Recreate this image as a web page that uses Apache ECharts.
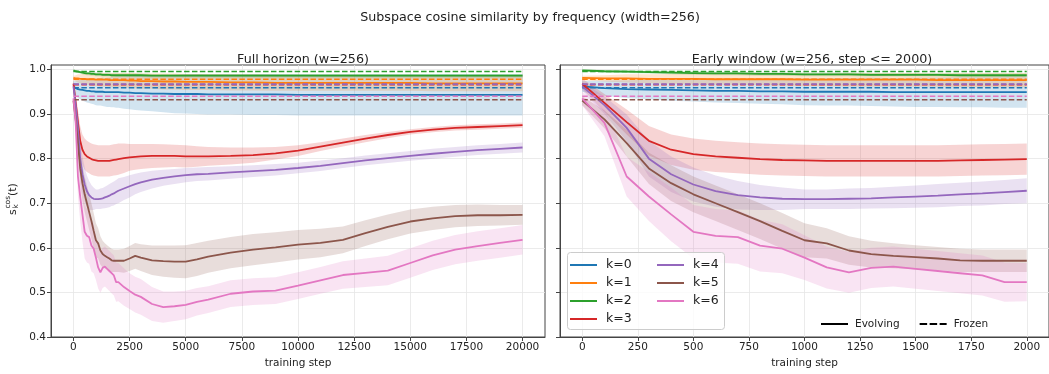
<!DOCTYPE html>
<html>
<head>
<meta charset="utf-8">
<script src="https://cdn.jsdelivr.net/npm/echarts@6/dist/echarts.min.js"></script>
<style>
html,body{margin:0;padding:0;background:#fff;}
#chart{width:1049px;height:374px;}
</style>
</head>
<body>
<div id="chart"></div>
<script>
// ---- data ----
const steps = [0,100,200,300,400,500,600,700,800,900,1000,1100,1200,1300,1400,1500,1600,1700,1800,1900,2000,
  2250,2500,2750,3000,3500,4000,4500,5000,5500,6000,7000,8000,9000,10000,11000,12000,13000,14000,15000,16000,17000,18000,19000,20000];

const meanK0 = [0.962,0.958,0.956,0.955,0.954,0.953,0.952,0.952,0.951,0.951,0.950,0.950,0.950,0.950,0.949,0.949,0.949,0.949,0.949,0.949,0.949,
  0.948,0.948,0.947,0.947,0.946,0.946,0.945,0.945,0.945,0.944,0.944,0.944,0.944,0.943,0.943,0.943,0.943,0.943,0.943,0.943,0.943,0.943,0.943,0.943];
const halfK0 = [0.012,0.017,0.020,0.022,0.024,0.025,0.026,0.027,0.028,0.029,0.030,0.031,0.031,0.032,0.032,0.033,0.033,0.034,0.034,0.035,0.035,
  0.036,0.037,0.038,0.039,0.040,0.042,0.043,0.044,0.045,0.045,0.045,0.046,0.046,0.046,0.046,0.046,0.046,0.046,0.046,0.046,0.046,0.046,0.046,0.046];

const meanK1 = [0.981,0.980,0.980,0.979,0.979,0.979,0.978,0.978,0.978,0.978,0.977,0.977,0.977,0.977,0.977,0.977,0.976,0.976,0.976,0.976,0.976,
  0.976,0.975,0.975,0.974,0.974,0.973,0.973,0.972,0.972,0.972,0.971,0.971,0.970,0.970,0.970,0.970,0.970,0.970,0.970,0.969,0.969,0.969,0.969,0.969];
const halfK1 = [0.005,0.007,0.009,0.010,0.011,0.012,0.012,0.013,0.013,0.014,0.014,0.014,0.015,0.015,0.015,0.015,0.015,0.016,0.016,0.016,0.016,
  0.016,0.017,0.017,0.017,0.017,0.018,0.018,0.018,0.018,0.018,0.018,0.018,0.018,0.018,0.018,0.018,0.018,0.018,0.018,0.018,0.018,0.018,0.018,0.018];

const meanK2 = [0.998,0.996,0.995,0.994,0.993,0.992,0.991,0.991,0.990,0.990,0.989,0.989,0.989,0.988,0.988,0.988,0.988,0.987,0.987,0.987,0.987,
  0.987,0.987,0.987,0.987,0.986,0.986,0.986,0.986,0.986,0.986,0.986,0.986,0.986,0.986,0.986,0.986,0.986,0.986,0.986,0.986,0.986,0.986,0.986,0.986];
const halfK2 = [0.002,0.003,0.003,0.003,0.004,0.004,0.004,0.004,0.004,0.004,0.004,0.004,0.004,0.004,0.004,0.004,0.004,0.004,0.004,0.004,0.004,
  0.004,0.004,0.004,0.004,0.004,0.004,0.004,0.004,0.004,0.004,0.004,0.004,0.004,0.004,0.004,0.004,0.004,0.004,0.004,0.004,0.004,0.004,0.004,0.004];

const meanK3 = [0.968,0.925,0.882,0.840,0.820,0.810,0.805,0.802,0.799,0.797,0.796,0.795,0.795,0.795,0.795,0.795,0.795,0.796,0.797,0.798,0.799,
  0.801,0.803,0.804,0.805,0.806,0.806,0.806,0.805,0.805,0.805,0.806,0.808,0.812,0.818,0.827,0.836,0.845,0.853,0.860,0.865,0.869,0.871,0.873,0.875];
const halfK3 = [0.012,0.020,0.028,0.033,0.034,0.035,0.035,0.035,0.035,0.035,0.035,0.035,0.035,0.035,0.035,0.035,0.035,0.035,0.035,0.035,0.035,
  0.033,0.030,0.029,0.028,0.027,0.026,0.025,0.025,0.023,0.021,0.019,0.017,0.014,0.012,0.010,0.009,0.008,0.007,0.006,0.006,0.006,0.006,0.006,0.006];

const meanK4 = [0.962,0.920,0.869,0.800,0.765,0.742,0.727,0.718,0.713,0.710,0.709,0.709,0.710,0.711,0.713,0.715,0.717,0.720,0.722,0.725,0.728,
  0.733,0.738,0.743,0.747,0.753,0.757,0.760,0.763,0.765,0.766,0.769,0.772,0.775,0.779,0.784,0.790,0.796,0.801,0.806,0.811,0.815,0.819,0.822,0.825];
const halfK4 = [0.010,0.020,0.030,0.040,0.040,0.038,0.035,0.032,0.028,0.025,0.022,0.022,0.023,0.023,0.024,0.025,0.026,0.026,0.027,0.027,0.028,
  0.026,0.025,0.023,0.022,0.020,0.018,0.017,0.016,0.015,0.015,0.014,0.013,0.013,0.012,0.012,0.011,0.011,0.011,0.011,0.011,0.011,0.011,0.011,0.011];

const meanK5 = [0.930,0.888,0.835,0.778,0.745,0.720,0.700,0.680,0.660,0.638,0.617,0.610,0.594,0.586,0.582,0.579,0.576,0.572,0.571,0.571,0.571,
  0.571,0.576,0.582,0.578,0.572,0.570,0.569,0.569,0.574,0.580,0.589,0.596,0.601,0.607,0.611,0.618,0.633,0.647,0.659,0.666,0.671,0.673,0.673,0.674];
const halfK5 = [0.010,0.020,0.030,0.035,0.040,0.040,0.040,0.040,0.040,0.040,0.038,0.034,0.032,0.030,0.028,0.027,0.026,0.026,0.025,0.025,0.025,
  0.027,0.028,0.029,0.030,0.033,0.035,0.036,0.037,0.037,0.036,0.035,0.035,0.034,0.033,0.032,0.030,0.029,0.028,0.027,0.026,0.025,0.024,0.023,0.022];

const meanK6 = [0.935,0.880,0.760,0.715,0.675,0.636,0.627,0.624,0.605,0.598,0.578,0.556,0.545,0.555,0.558,0.553,0.548,0.543,0.538,0.523,0.523,
  0.512,0.503,0.495,0.490,0.474,0.467,0.469,0.472,0.479,0.484,0.497,0.502,0.504,0.515,0.527,0.539,0.544,0.549,0.566,0.583,0.596,0.604,0.611,0.618];
const halfK6 = [0.015,0.030,0.045,0.055,0.060,0.060,0.060,0.060,0.058,0.055,0.050,0.047,0.046,0.045,0.045,0.045,0.045,0.045,0.045,0.044,0.043,
  0.042,0.040,0.040,0.040,0.038,0.035,0.033,0.032,0.031,0.030,0.030,0.030,0.030,0.030,0.030,0.031,0.032,0.033,0.033,0.033,0.033,0.033,0.033,0.033];

const frozenLevels = [0.959, 0.978, 0.9955, 0.966, 0.967, 0.932, 0.940];

const seriesNames = ['k=0','k=1','k=2','k=3','k=4','k=5','k=6'];
const xTicksFull = [0,2500,5000,7500,10000,12500,15000,17500,20000];
const xTicksEarly = [0,250,500,750,1000,1250,1500,1750,2000];
const yTicks = [0.4,0.5,0.6,0.7,0.8,0.9,1.0];

// ---- styling ----
const colorsRGB = [[31,119,180],[255,127,14],[44,160,44],[214,39,40],[148,103,189],[140,86,75],[227,119,194]];
const means = [meanK0,meanK1,meanK2,meanK3,meanK4,meanK5,meanK6];
const halves = [halfK0,halfK1,halfK2,halfK3,halfK4,halfK5,halfK6];
const FONT = 'DejaVu Sans';

function rgb(c,a){ return a===undefined ? `rgb(${c[0]},${c[1]},${c[2]})` : `rgba(${c[0]},${c[1]},${c[2]},${a})`; }

function buildPanel(axisIdx, maxStep){
  const out = [];
  const idx = steps.map((s,i)=>i).filter(i=>steps[i] <= maxStep);
  for (let k=0;k<7;k++){
    const c = colorsRGB[k];
    const m = means[k], h = halves[k];
    const bandData = idx.map(i=>[steps[i], +(m[i]-h[i]).toFixed(4), +(m[i]+h[i]).toFixed(4)]);
    const fillCol = rgb(c,0.2);
    out.push({
      type:'custom', name:'bd'+axisIdx+k, xAxisIndex:axisIdx, yAxisIndex:axisIdx,
      data: bandData, encode:{x:0, y:[1,2]}, silent:true,
      renderItem: function(params, api){
        if (params.dataIndex !== 0) return null;
        const up = bandData.map(d=>api.coord([d[0], d[2]]));
        const lo = bandData.map(d=>api.coord([d[0], d[1]])).reverse();
        return {type:'polygon', shape:{points: up.concat(lo)}, style:{fill:fillCol, stroke:'none'}};
      }
    });
    out.push({
      type:'line', name:seriesNames[k], xAxisIndex:axisIdx, yAxisIndex:axisIdx,
      data: idx.map(i=>[steps[i], m[i]]),
      symbol:'none', color:rgb(c), lineStyle:{color:rgb(c), width:1.8}
    });
    out.push({
      type:'line', name:'fz'+axisIdx+k, xAxisIndex:axisIdx, yAxisIndex:axisIdx,
      data: [[0, frozenLevels[k]],[maxStep, frozenLevels[k]]],
      symbol:'none', lineStyle:{color:rgb(c), width:1.6, type:[5.5,2.4]}, silent:true
    });
  }
  return out;
}

const series = [].concat(buildPanel(0, 20000), buildPanel(1, 2000));
series.push({type:'line', name:'Evolving', xAxisIndex:1, yAxisIndex:1, data:[], symbol:'none', color:'#000', lineStyle:{color:'#000', width:1.8}});
series.push({type:'line', name:'Frozen', xAxisIndex:1, yAxisIndex:1, data:[], symbol:'none', color:'#000', lineStyle:{color:'#000', width:1.6, type:[5.5,2.4]}});

function xAxisCfg(gi, min, max, ticks){
  return {
    type:'value', gridIndex:gi, min:min, max:max,
    name:'training step', nameLocation:'middle', nameGap:21,
    nameTextStyle:{fontFamily:FONT, fontSize:10.5, color:'#222'},
    axisLine:{show:true, onZero:false, lineStyle:{color:'#444', width:1}},
    axisTick:{show:true, length:4, lineStyle:{color:'#444'}, customValues:ticks},
    axisLabel:{fontFamily:FONT, fontSize:10.5, color:'#222', margin:5, customValues:ticks, formatter:v=>String(v)},
    splitLine:{show:true, lineStyle:{color:'#e6e6e6', width:0.8}, customValues:ticks}
  };
}
function yAxisCfg(gi, showLabels){
  return {
    type:'value', gridIndex:gi, min:0.4, max:1.01,
    axisLine:{show:true, onZero:false, lineStyle:{color:'#444', width:1}},
    axisTick:{show:true, length:4, lineStyle:{color:'#444'}, customValues:yTicks},
    axisLabel:{show:showLabels, fontFamily:FONT, fontSize:10.5, color:'#222', margin:5, customValues:yTicks,
      formatter:v=>v.toFixed(1)},
    splitLine:{show:true, lineStyle:{color:'#e6e6e6', width:0.8}, customValues:yTicks}
  };
}

const dashIcon = 'path://M0,0h7.5v2h-7.5z M10,0h7.5v2h-7.5z M20,0h7v2h-7z';
const legendText = {fontFamily:FONT, fontSize:12.5, color:'#222', lineHeight:14, padding:[0,0,0,4]};
const titleText = {fontFamily:FONT, fontSize:12.7, fontWeight:'normal', color:'#222'};

const option = {
  animation:false,
  backgroundColor:'#fff',
  title:[
    {text:'Subspace cosine similarity by frequency (width=256)', left:525, top:6, textAlign:'center', textStyle:titleText},
    {text:'Full horizon (w=256)', left:298, top:48, textAlign:'center', textStyle:titleText},
    {text:'Early window (w=256, step <= 2000)', left:807, top:48, textAlign:'center', textStyle:titleText}
  ],
  grid:[
    {left:51, top:65, width:494, height:272, show:true, borderColor:'#444', borderWidth:1, backgroundColor:'transparent'},
    {left:560, top:65, width:494, height:272, show:true, borderColor:'#444', borderWidth:1, backgroundColor:'transparent'}
  ],
  xAxis:[ xAxisCfg(0,-1000,21000,xTicksFull), xAxisCfg(1,-100,2100,xTicksEarly) ],
  yAxis:[ yAxisCfg(0,true), yAxisCfg(1,false) ],
  legend:[
    {data:seriesNames.slice(0,4).map(n=>({name:n, icon:'rect'})), orient:'vertical', left:565, top:253, itemWidth:27, itemHeight:2, itemGap:4,
     textStyle:legendText, selectedMode:false, z:10},
    {data:seriesNames.slice(4).map(n=>({name:n, icon:'rect'})), orient:'vertical', left:652, top:253, itemWidth:27, itemHeight:2, itemGap:4,
     textStyle:legendText, selectedMode:false, z:10},
    {data:[{name:'Evolving', icon:'rect'},{name:'Frozen', icon:dashIcon}], orient:'horizontal', left:816, top:312, itemWidth:27, itemHeight:2, itemGap:20,
     textStyle:{fontFamily:FONT, fontSize:10.5, color:'#222', lineHeight:14, padding:[0,0,0,2]}, selectedMode:false, z:10}
  ],
  graphic:[
    {type:'rect', left:567, top:252, z:9, shape:{width:157, height:77, r:3},
     style:{fill:'rgba(255,255,255,0.8)', stroke:'#cccccc', lineWidth:1}},
    {type:'group', x:13, y:200, rotation:Math.PI/2, children:[
      {type:'text', x:-15, y:0, style:{text:'s', fontFamily:FONT, fontSize:11, fill:'#222', align:'left', verticalAlign:'middle', textAlign:'left', textVerticalAlign:'middle'}},
      {type:'text', x:-8.5, y:3.5, style:{text:'k', fontFamily:FONT, fontSize:7.5, fill:'#222', align:'left', verticalAlign:'middle', textAlign:'left', textVerticalAlign:'middle'}},
      {type:'text', x:-8.5, y:-4.5, style:{text:'cos', fontFamily:FONT, fontSize:7.5, fill:'#222', align:'left', verticalAlign:'middle', textAlign:'left', textVerticalAlign:'middle'}},
      {type:'text', x:4, y:0, style:{text:'(t)', fontFamily:FONT, fontSize:11, fill:'#222', align:'left', verticalAlign:'middle', textAlign:'left', textVerticalAlign:'middle'}}
    ]}
  ],
  series: series
};

const chart = echarts.init(document.getElementById('chart'), null, {renderer:'canvas'});
chart.setOption(option);
</script>
</body>
</html>
